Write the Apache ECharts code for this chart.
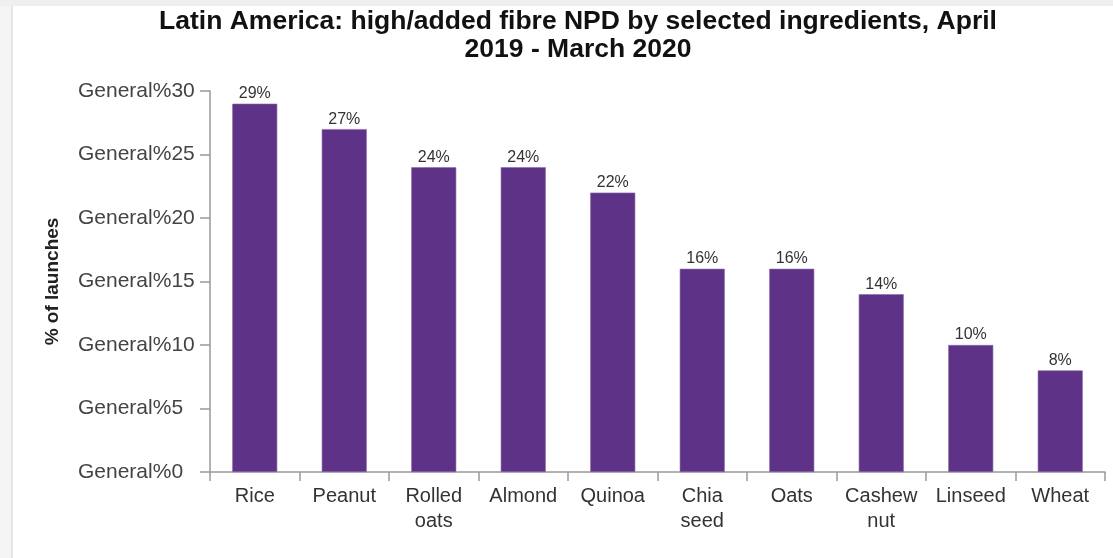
<!DOCTYPE html>
<html>
<head>
<meta charset="utf-8">
<script src="https://cdn.jsdelivr.net/npm/echarts@6/dist/echarts.min.js"></script>
<style>
html,body{margin:0;padding:0;background:#fff;}
#c{width:1113px;height:558px;}
</style>
</head>
<body>
<div id="c"></div>
<script>
const categories = ['Rice','Peanut','Rolled\noats','Almond','Quinoa','Chia\nseed','Oats','Cashew\nnut','Linseed','Wheat'];
const values = [29,27,24,24,22,16,16,14,10,8];
const yTicks = [0,5,10,15,20,25,30];

const chart = echarts.init(document.getElementById('c'), null, {renderer:'canvas'});
chart.setOption({
  backgroundColor:'#ffffff',
  animation:false,
  graphic:[
    {type:'rect', shape:{x:0,y:0,width:12,height:558}, style:{fill:'#f5f5f5'}, z:-10},
    {type:'rect', shape:{x:11,y:6,width:2,height:552}, style:{fill:'#e6e6e6'}, z:-9},
    {type:'rect', shape:{x:0,y:0,width:1113,height:6}, style:{fill:'#efefef'}, z:-10}
  ],
  title:{
    text:'Latin America: high/added fibre NPD by selected ingredients, April\n2019 - March 2020',
    left:573, top:3, textAlign:'center',
    textStyle:{fontFamily:'Liberation Sans, Arial, sans-serif', fontSize:26.5, fontWeight:'bold', color:'#111', lineHeight:28}
  },
  grid:{left:210, right:8, top:91, bottom:86, containLabel:false},
  xAxis:{
    type:'category', data:categories,
    axisLine:{lineStyle:{color:'#999', width:1.5}},
    axisTick:{show:true, alignWithLabel:false, length:9, lineStyle:{color:'#999', width:1.5}},
    axisLabel:{interval:0, margin:12, color:'#333', fontSize:20, lineHeight:25, fontFamily:'Liberation Sans, Arial, sans-serif'}
  },
  yAxis:{
    type:'value', min:0, max:30, interval:5,
    name:'% of launches', nameLocation:'middle', nameGap:148, nameRotate:90,
    nameTextStyle:{fontFamily:'Liberation Sans, Arial, sans-serif', fontSize:19, fontWeight:'bold', color:'#222'},
    splitLine:{show:false},
    axisLine:{show:true, lineStyle:{color:'#999', width:1.5}},
    axisTick:{show:true, length:10, lineStyle:{color:'#999', width:1.5}},
    axisLabel:{margin:132, align:'left', color:'#444', fontSize:21, fontFamily:'Liberation Sans, Arial, sans-serif',
      formatter:function(v){return yTicks.indexOf(v)>=0 ? 'General%'+v : '';}}
  },
  series:[{
    type:'bar', data:values, barWidth:45,
    itemStyle:{color:'#5e3387', borderColor:'#8a6aa8', borderWidth:0.6},
    label:{show:true, position:'top', distance:2, formatter:'{c}%', color:'#333', fontSize:16, fontFamily:'Liberation Sans, Arial, sans-serif'}
  }]
});
</script>
</body>
</html>
